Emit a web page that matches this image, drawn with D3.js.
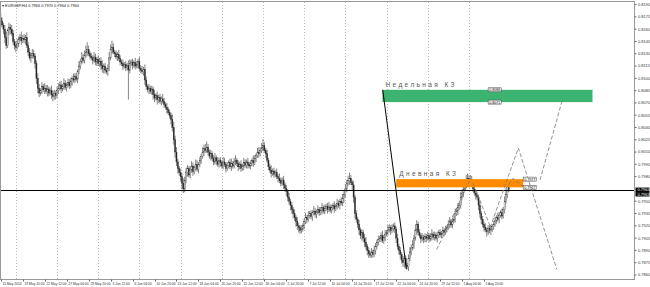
<!DOCTYPE html>
<html>
<head>
<meta charset="utf-8">
<script src="https://cdn.jsdelivr.net/npm/d3@7"></script>
<style>
body { margin: 0; background: #fff; }
svg { display: block; }
text { font-family: "Liberation Sans", Arial, sans-serif; }
</style>
</head>
<body>
<svg width="650" height="287"></svg>
<script>
// EURGBP H4, prices in pips (0.xxxx * 10000)
let firstOpen = 8174
let closes = [
  8170, 8165, 8160, 8150, 8140, 8158, 8162, 8160, 8155, 8145,
  8140, 8138, 8142, 8148, 8150, 8146, 8149, 8147, 8150, 8140,
  8132, 8125, 8128, 8130, 8127, 8118, 8100, 8088, 8082, 8085,
  8090, 8086, 8088, 8084, 8087, 8082, 8085, 8080, 8078, 8082,
  8079, 8085, 8088, 8092, 8087, 8090, 8094, 8089, 8092, 8095,
  8091, 8096, 8100, 8098, 8102, 8099, 8108, 8115, 8120, 8125,
  8122, 8128, 8132, 8135, 8130, 8127, 8125, 8122, 8126, 8120,
  8123, 8118, 8121, 8116, 8112, 8115, 8110, 8108, 8112, 8125,
  8135, 8138, 8132, 8130, 8126, 8129, 8124, 8120, 8118, 8115,
  8117, 8113, 8116, 8110, 8118, 8120, 8116, 8119, 8115, 8117,
  8121, 8112, 8110, 8108, 8111, 8098, 8090, 8086, 8088, 8084,
  8087, 8080, 8076, 8079, 8074, 8077, 8072, 8075, 8072, 8068,
  8065, 8062, 8058, 8055, 8050, 8040, 8025, 8010, 7998, 7990,
  7985, 7980, 7972, 7965, 7975, 7985, 7990, 7982, 7988, 7993,
  7986, 7991, 7995, 7989, 7995, 8000, 8005, 8010, 8014, 8012,
  8016, 8010, 8005, 8008, 8002, 7998, 8003, 7999, 7995, 8000,
  7997, 7993, 7998, 7995, 7990, 7994, 7997, 7992, 7996, 7993,
  7998, 8000, 7996, 7992, 7995, 7990, 7993, 7997, 7994, 7998,
  7995, 7993, 7996, 8000, 7997, 8002, 8006, 8010, 8008, 8012,
  8015, 8018, 8012, 8008, 8000, 7992, 7988, 7984, 7987, 7983,
  7985, 7980, 7978, 7975, 7972, 7976, 7970, 7966, 7962, 7955,
  7950, 7945, 7940, 7935, 7930, 7925, 7920, 7918, 7914, 7916,
  7920, 7925, 7930, 7928, 7933, 7935, 7931, 7936, 7938, 7934,
  7937, 7940, 7936, 7939, 7942, 7938, 7941, 7944, 7940, 7943,
  7939, 7942, 7945, 7941, 7944, 7947, 7945, 7950, 7948, 7953,
  7958, 7965, 7972, 7975, 7978, 7973, 7970, 7955, 7935, 7928,
  7922, 7915, 7908, 7912, 7905, 7900, 7895, 7890, 7886, 7884,
  7888, 7885, 7890, 7895, 7900, 7903, 7905, 7908, 7902, 7906,
  7910, 7912, 7915, 7918, 7914, 7917, 7920, 7916, 7905, 7895,
  7890, 7885, 7878, 7875, 7880, 7872, 7870, 7880, 7888, 7893,
  7897, 7905, 7915, 7922, 7912, 7908, 7904, 7906, 7903, 7907,
  7905, 7908, 7904, 7907, 7910, 7906, 7909, 7905, 7908, 7912,
  7909, 7911, 7914, 7912, 7916, 7918, 7922, 7925, 7921, 7926,
  7928, 7935, 7938, 7942, 7945, 7955, 7960, 7965, 7970, 7975,
  7978, 7973, 7977, 7972, 7965, 7960, 7957, 7955, 7945, 7935,
  7928, 7922, 7918, 7915, 7913, 7917, 7914, 7916, 7919, 7922,
  7926, 7930, 7928, 7933, 7936, 7932, 7940, 7950, 7958, 7968,
  7964
]
let upWick = [
  6,4,3,5,7,3,6,4,5,4, 3,5,6,3,4,7,4,5,3,6, 4,5,3,6,5,3,4,6,5,3, 5,3,6,4,5,3,4,6,5,4,
  3,5,6,4,5,3,6,4,3,5, 4,5,3,6,4,5,3,6,4,7, 5,6,8,9,5,3,4,3,6,4, 3,5,4,5,6,3,4,3,5,7,
  6,8,5,3,4,3,6,4,3,5, 3,4,3,6,5,3,4,3,6,4, 3,5,4,5,3,6,4,3,5,3, 4,3,6,3,5,3,4,3,6,4,
  3,5,3,4,3,6,7,5,6,4, 3,5,4,6,5,6,4,3,5,6, 4,3,6,5,3,4,3,6,5,6, 7,4,3,5,3,4,6,3,5,3,
  4,3,6,5,3,4,3,5,6,3, 5,6,3,4,3,5,3,6,4,3, 5,3,4,3,6,4,3,5,6,4, 6,8,4,3,5,3,4,6,3,4,
  3,5,3,6,4,3,5,3,4,3, 5,3,4,3,5,3,6,4,3,5, 3,4,6,3,5,3,4,3,6,4, 3,5,3,4,6,3,5,3,4,6,
  3,4,3,5,3,6,4,3,5,6, 5,6,4,6,7,4,3,5,3,4, 3,5,3,4,3,5,6,3,4,3, 5,3,6,4,3,5,3,4,6,3,
  5,3,6,4,3,5,3,4,3,5, 3,4,3,5,3,4,3,5,6,4, 6,4,7,5,3,4,3,5,3,4, 3,5,3,4,6,3,4,3,5,3,
  4,3,5,3,4,3,5,6,3,4, 5,6,4,6,5,6,4,6,5,7, 6,4,5,4,3,5,3,4,3,5, 3,4,3,5,3,4,3,5,3,4,
  5,3,6,4,3,5,3,6,5,6, 4
]
let dnWick = [
  5,3,6,7,4,3,5,6,3,4, 5,6,3,4,3,5,3,4,6,3, 5,3,6,4,3,6,7,6,5,3, 4,3,5,3,6,4,3,5,6,4,
  5,3,4,3,5,3,4,3,5,3, 4,3,5,3,4,3,5,3,4,3, 3,4,3,5,3,4,3,5,3,4, 5,3,4,6,5,6,4,3,5,3,
  3,5,3,4,3,5,3,4,3,5, 3,4,3,36,4,3,5,3,4,3, 5,3,4,3,5,6,4,3,5,3, 4,6,5,3,6,4,3,5,3,4,
  3,5,3,4,6,5,6,7,5,6, 4,6,7,5,4,3,5,3,4,3, 5,3,4,3,5,3,4,3,5,3, 3,4,3,5,3,4,3,5,3,4,
  5,3,4,3,5,3,4,3,5,3, 3,4,3,5,3,4,3,5,3,4, 5,3,4,3,5,3,4,3,5,3, 3,4,3,5,3,4,3,5,3,4,
  4,3,5,3,4,3,5,4,6,5, 4,6,5,6,4,6,5,6,4,3, 3,4,3,5,3,4,3,5,3,4, 5,3,4,3,5,3,4,3,5,3,
  3,4,3,5,3,4,3,5,3,4, 5,3,4,3,5,3,6,7,6,4, 5,6,4,6,5,6,4,6,5,3, 3,4,3,5,3,4,3,5,3,4,
  5,3,4,3,5,3,4,5,6,4, 5,6,4,5,6,4,3,5,3,4, 3,5,3,6,4,3,5,3,4,3, 5,3,4,3,5,3,4,3,5,3,
  3,4,3,5,3,4,3,5,3,4, 3,4,3,5,3,4,3,5,3,4, 4,3,5,3,4,3,5,4,6,5, 6,4,5,3,6,4,3,5,3,4,
  3,4,3,5,3,4,3,5,3,4, 3
]

// time axis: one label every 16 bars, starting at bar 0
let timeLabels = ["15 May 2014", "19 May 20:00", "22 May 12:00", "27 May 04:00", "29 May 20:00",
  "3 Jun 12:00", "6 Jun 04:00", "10 Jun 20:00", "13 Jun 12:00", "18 Jun 04:00", "20 Jun 20:00",
  "25 Jun 12:00", "30 Jun 04:00", "2 Jul 20:00", "7 Jul 12:00", "10 Jul 04:00", "14 Jul 20:00",
  "17 Jul 12:00", "22 Jul 04:00", "24 Jul 20:00", "29 Jul 12:00", "1 Aug 04:00", "5 Aug 20:00"]
let labelStep = 16
// bar index of each Monday 00:00 (vertical grid)
let weekStarts = [11, 41, 71, 101, 131, 161, 191, 221, 251, 281, 311, 341]
let priceTicks = d3.range(7860, 8191, 15)
let bid = 7964
let title = "EURGBP,H4  0.7966 0.7970 0.7964 0.7964"

// objects drawn on the chart (bar index, pips)
let weeklyZone = { i0: 278, i1: 431, top: 8086, bottom: 8071, name: "Недельная КЗ" }
let dailyZone = { i0: 288, i1: 380.5, top: 7977, bottom: 7967, name: "Дневная КЗ" }
let solidLines = [[[278.2, 8086], [295.5, 7867]]]
let dashLines = [
  [[317.5, 7891], [341.8, 7976]],
  [[344, 7972], [358.5, 7911]],
  [[355, 7911], [377, 8015], [405, 7867]],
  [[392.8, 7976], [408.6, 8071]],
  [[367.3, 7964], [373.1, 7978], [381.8, 7966]]
]

const plotRight = 634.5, plotTop = 2, plotBottom = 279.5
const svg = d3.select("svg")

const x = d3.scaleLinear().domain([0, 462]).range([0.73, 635.06])
const y = d3.scaleLinear().domain([7860, 8190]).range([275, 4.6])
const fmt = v => (v / 10000).toFixed(4)
const bw = x(1) - x(0)

// vertical grid
svg.append("g").selectAll("line").data(weekStarts).join("line")
  .attr("x1", d => Math.round(x(d)) + 0.5).attr("x2", d => Math.round(x(d)) + 0.5)
  .attr("y1", plotTop).attr("y2", plotBottom)
  .attr("stroke", "#b8b8b8").attr("stroke-dasharray", "1,2")

// candles
const bars = closes.map((c, i) => {
  const o = i === 0 ? firstOpen : closes[i - 1]
  return { i, o, c, h: Math.max(o, c) + upWick[i], l: Math.min(o, c) - dnWick[i] }
})
const cg = svg.append("g")
cg.selectAll("line").data(bars).join("line")
  .attr("x1", d => x(d.i)).attr("x2", d => x(d.i))
  .attr("y1", d => y(d.h)).attr("y2", d => y(d.l))
  .attr("stroke", "#333").attr("stroke-width", 0.6)
cg.selectAll("rect").data(bars).join("rect")
  .attr("x", d => x(d.i) - bw * 0.4).attr("width", bw * 0.8)
  .attr("y", d => y(Math.max(d.o, d.c)))
  .attr("height", d => Math.max(0.5, Math.abs(y(d.o) - y(d.c))))
  .attr("fill", d => d.c >= d.o ? "#fff" : "#222")
  .attr("stroke", "#333").attr("stroke-width", 0.35)

// zones
for (const z of [weeklyZone, dailyZone]) {
  svg.append("rect")
    .attr("x", x(z.i0)).attr("y", y(z.top))
    .attr("width", x(z.i1) - x(z.i0)).attr("height", y(z.bottom) - y(z.top))
    .attr("fill", z === weeklyZone ? "#3cb371" : "#ff8c00")
  svg.append("text").attr("x", x(z.i0) + 3).attr("y", y(z.top) - 3)
    .attr("font-size", 6.5).attr("letter-spacing", 2.4).attr("fill", "#555")
    .text(z.name)
}

// bid line
svg.append("line").attr("x1", 0).attr("x2", plotRight)
  .attr("y1", Math.round(y(bid)) + 0.5).attr("y2", Math.round(y(bid)) + 0.5)
  .attr("stroke", "#000").attr("stroke-width", 1)

// trend lines
const line = d3.line().x(d => x(d[0])).y(d => y(d[1]))
svg.append("g").selectAll("path").data(solidLines).join("path")
  .attr("d", line).attr("fill", "none").attr("stroke", "#000").attr("stroke-width", 1)
svg.append("g").selectAll("path").data(dashLines).join("path")
  .attr("d", line).attr("fill", "none").attr("stroke", "#777")
  .attr("stroke-width", 0.8).attr("stroke-dasharray", "4,2")

// small price tags next to zones
const tags = [
  [355, weeklyZone.top], [355, weeklyZone.bottom],
  [dailyZone.i1, dailyZone.top], [dailyZone.i1, dailyZone.bottom]
]
const tg = svg.append("g").selectAll("g").data(tags).join("g")
  .attr("transform", d => `translate(${x(d[0])},${y(d[1])})`)
tg.append("rect").attr("x", 0).attr("y", -2).attr("width", 13).attr("height", 4)
  .attr("fill", "#fff").attr("stroke", "#333").attr("stroke-width", 0.5)
tg.append("text").attr("x", 1).attr("y", 1.4).attr("font-size", 3.6).attr("fill", "#000")
  .text(d => fmt(d[1]))

// frame
svg.append("path")
  .attr("d", `M0.5,${plotTop - 0.5}H${plotRight}V${plotBottom}H0.5Z`)
  .attr("fill", "none").attr("stroke", "#999").attr("shape-rendering", "crispEdges")

// price axis
const by = y(bid)
const pt = svg.append("g").selectAll("g")
  .data(priceTicks.filter(v => Math.abs(y(v) - by) > 5)).join("g")
  .attr("transform", d => `translate(${plotRight},${y(d)})`)
pt.append("line").attr("x2", 2).attr("stroke", "#666")
pt.append("text").attr("x", 3.5).attr("y", 1.4).attr("font-size", 4).attr("fill", "#333")
  .text(fmt)
for (const [v, dy] of [[bid, 0], [bid - 1, 4.5]]) {
  svg.append("rect").attr("x", plotRight + 1).attr("y", by + dy - 2.2)
    .attr("width", 14).attr("height", 4.4).attr("fill", "#000")
  svg.append("text").attr("x", plotRight + 3).attr("y", by + dy + 1.4)
    .attr("font-size", 4).attr("fill", "#fff").text(fmt(v))
}

// time axis
const tl = svg.append("g").selectAll("g").data(timeLabels).join("g")
  .attr("transform", (d, k) => `translate(${Math.round(x(k * labelStep)) + 0.5},${plotBottom})`)
tl.append("line").attr("y2", 2).attr("stroke", "#666")
tl.append("text").attr("x", 1).attr("y", 5.2).attr("font-size", 3.3).attr("fill", "#333")
  .text(d => d)

// title
svg.append("text").attr("x", 2).attr("y", 7).attr("font-size", 3.9).attr("fill", "#222")
  .text("\u25BE " + title)
</script>
</body>
</html>
